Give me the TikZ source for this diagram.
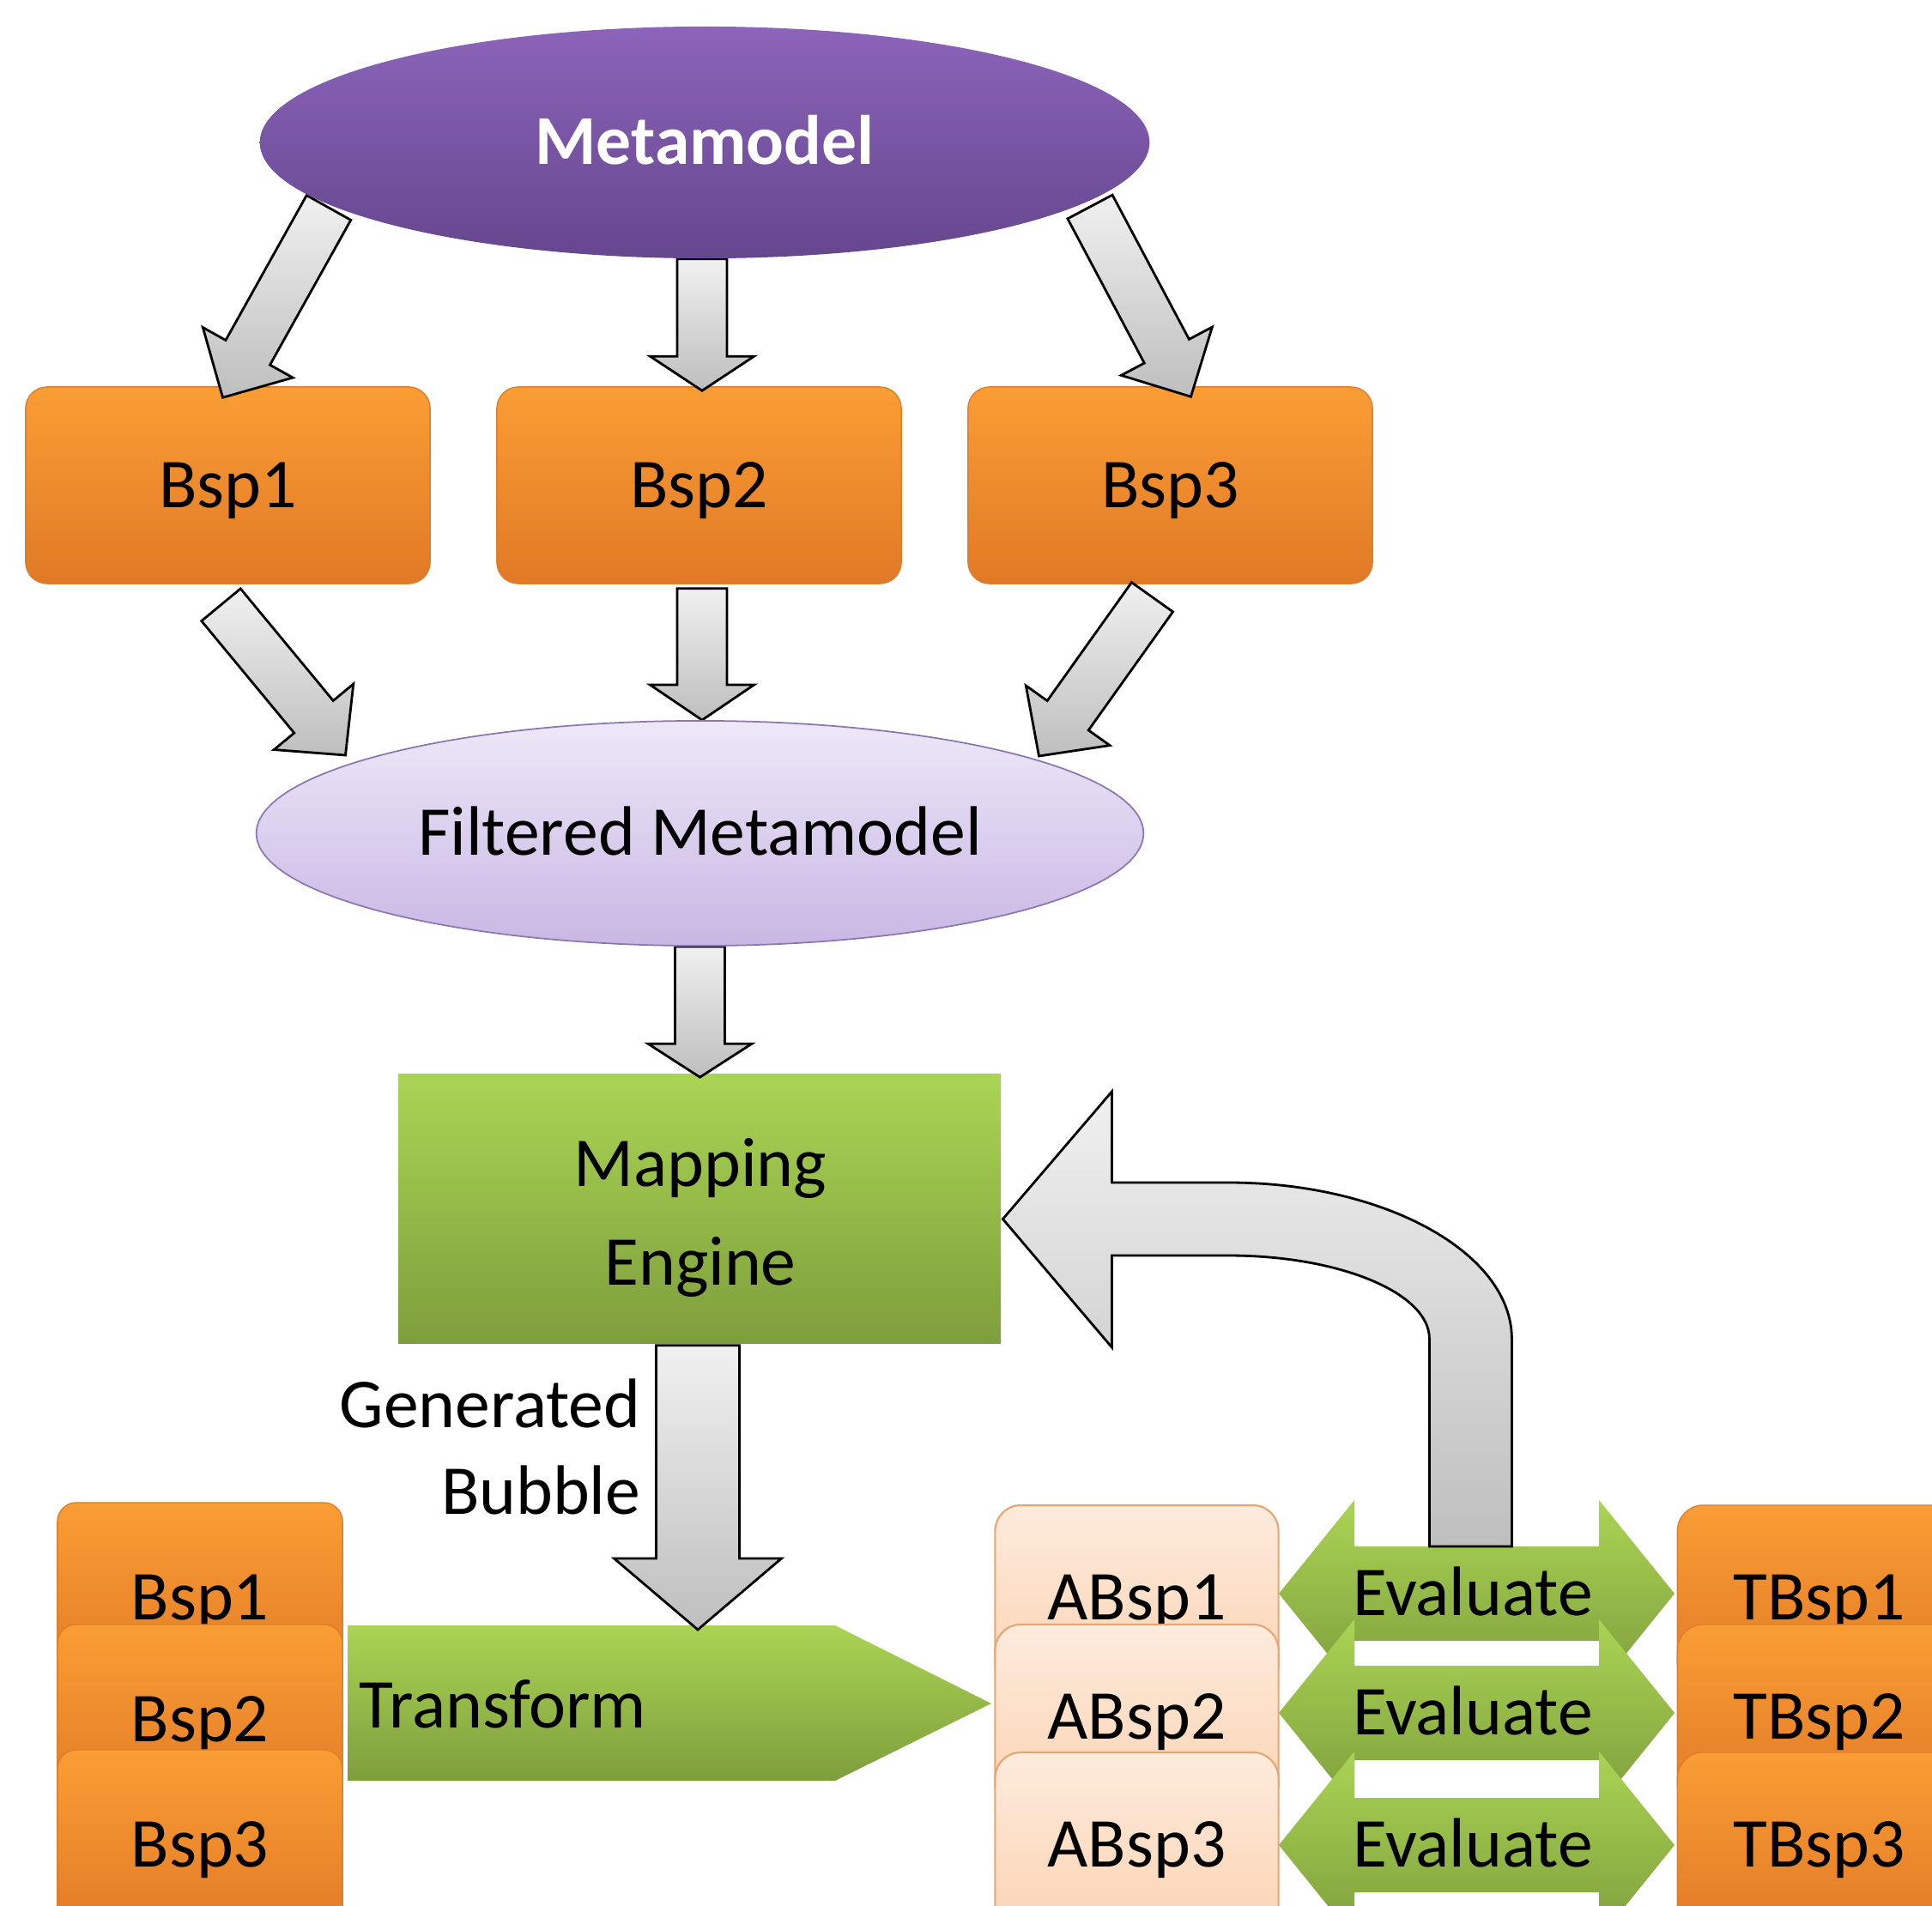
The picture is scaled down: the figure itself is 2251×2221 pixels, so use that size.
\documentclass[tikz,border=0pt]{standalone}
\usepackage{fontspec}
\setmainfont{Carlito}
\usetikzlibrary{calc,shapes.geometric}
\pgfdeclarelayer{front}
\pgfsetlayers{main,front}

\definecolor{orangeT}{RGB}{250,157,52}
\definecolor{orangeB}{RGB}{224,121,38}
\definecolor{orangeEdge}{RGB}{222,125,45}
\definecolor{greenT}{RGB}{170,212,84}
\definecolor{greenB}{RGB}{126,158,60}
\definecolor{purpT}{RGB}{140,100,186}
\definecolor{purpB}{RGB}{101,71,142}
\definecolor{lavT}{RGB}{238,232,248}
\definecolor{lavB}{RGB}{200,183,228}
\definecolor{lavEdge}{RGB}{140,120,175}
\definecolor{peachT}{RGB}{253,235,221}
\definecolor{peachB}{RGB}{251,211,178}
\definecolor{peachEdge}{RGB}{230,165,115}
\definecolor{grayT}{RGB}{240,240,240}
\definecolor{grayB}{RGB}{190,190,190}

\newcommand\dfont{\fontsize{23.2}{27}\selectfont}

\tikzset{
  capcenter/.style={text height=0.515cm, text depth=0pt},
  plaintext/.style={inner sep=0pt, font=\dfont},
  orangebox/.style={rectangle, rounded corners=0.25cm, top color=orangeT,
    bottom color=orangeB, draw=orangeEdge, line width=0.4pt, font=\dfont,
    capcenter, inner sep=0pt, minimum width=4.71cm, minimum height=2.29cm},
  stackbox/.style={orangebox, rounded corners=0.22cm, minimum width=3.32cm,
    minimum height=2.22cm},
  tbox/.style={orangebox, rounded corners=0.30cm, minimum width=3.30cm,
    minimum height=2.16cm},
  abox/.style={rectangle, rounded corners=0.30cm, top color=peachT,
    bottom color=peachB, draw=peachEdge, line width=0.6pt, font=\dfont,
    capcenter, inner sep=0pt, minimum width=3.30cm, minimum height=2.16cm},
  greenfill/.style={top color=greenT, bottom color=greenB},
  greenbox/.style={rectangle, greenfill, inner sep=0pt,
    minimum width=7.02cm, minimum height=3.13cm},
  metaell/.style={ellipse, top color=purpT, bottom color=purpB, text=white,
    font=\dfont\bfseries, capcenter, inner sep=0pt,
    minimum width=10.36cm, minimum height=2.70cm},
  filtell/.style={ellipse, top color=lavT, bottom color=lavB, draw=lavEdge,
    line width=0.5pt, font=\dfont, capcenter, inner sep=0pt,
    minimum width=10.33cm, minimum height=2.62cm},
  grayarrow/.style={draw=black, line width=0.8pt, line join=miter,
    top color=grayT, bottom color=grayB},
}

% straight block arrow: tail, tip, half shaft width, half head width, head length
\newcommand\blockarrow[5]{%
  \coordinate (baBase) at ($(#2)!#5!(#1)$);
  \path[grayarrow] ($(#1)!#3!90:(#2)$) -- ($(baBase)!#3!90:(#2)$)
    -- ($(baBase)!#4!90:(#2)$) -- (#2) -- ($(baBase)!#4!-90:(#2)$)
    -- ($(baBase)!#3!-90:(#2)$) -- ($(#1)!#3!-90:(#2)$) -- cycle;
}

% two-headed green arrow with its label, centred at height #2
\newcommand\evalarrow[2]{%
  \path[greenfill] (1490,#2) -- ++(88,-109) -- ++(0,54) -- ++(285,0)
    -- ++(0,-54) -- ++(88,109) -- ++(-88,109) -- ++(0,-54) -- ++(-285,0)
    -- ++(0,54) -- cycle;
  \node[plaintext, capcenter] (#1) at (1716,#2) {Evaluate};
}

\begin{document}
\begin{tikzpicture}[x=0.01cm, y=-0.01cm]
\useasboundingbox (0,0) rectangle (2251,2221);
\clip (0,0) rectangle (2251,2221);
\fill[white] (0,0) rectangle (2251,2221);

% ellipses sit on the front layer, above the arrow tails
\begin{pgfonlayer}{front}
  \node[metaell] (meta) at (821,166) {Metamodel};
  \node[filtell] (fm) at (815.5,971) {Filtered Metamodel};
\end{pgfonlayer}

% example boxes
\node[orangebox] (b1) at (265.5,565.5) {Bsp1};
\node[orangebox] (b2) at (814.5,565.5) {Bsp2};
\node[orangebox] (b3) at (1363.5,565.5) {Bsp3};

% mapping engine
\node[greenbox] (map) at (815,1408.5) {};
\node[plaintext, anchor=base] (mapA) at (816,1382) {Mapping};
\node[plaintext, anchor=base] (mapB) at (816,1497) {Engine};

\node[plaintext, anchor=base east] (gen1) at (747,1663) {Generated};
\node[plaintext, anchor=base east] (gen2) at (747,1764) {Bubble};

% input stack
\node[stackbox] (s1) at (233,1862) {Bsp1};
\node[stackbox] (s2) at (233,2004) {Bsp2};
\node[stackbox] (s3) at (233,2150) {Bsp3};

% transform step
\coordinate (trNW) at (405,1894);
\path[greenfill] (trNW) -- ++(568,0) -- ++(182,91) -- ++(-182,90)
  -- ++(-568,0) -- cycle;
\node[plaintext, anchor=base west] (tr) at (418,2013) {Transform};

% transformed and target examples
\node[abox] (a1) at (1324.5,1862) {ABsp1};
\node[abox] (a2) at (1324.5,2001) {ABsp2};
\node[abox] (a3) at (1324.5,2150) {ABsp3};
\node[tbox] (tb1) at (2119.5,1862) {TBsp1};
\node[tbox] (tb2) at (2119.5,2001) {TBsp2};
\node[tbox] (tb3) at (2119.5,2150) {TBsp3};

\evalarrow{ev1}{1857}
\evalarrow{ev2}{1996}
\evalarrow{ev3}{2150}

% metamodel to examples
\coordinate (t1) at ($(meta.center)+(-438,76)$);
\coordinate (h1) at ($(b1.north)+(-6,13)$);
\blockarrow{t1}{h1}{0.295cm}{0.60cm}{0.60cm}
\coordinate (t2) at ($(meta.south)+(-3,0)$);
\coordinate (h2) at ($(b2.north)+(3.5,5)$);
\blockarrow{t2}{h2}{0.29cm}{0.605cm}{0.40cm}
\coordinate (t3) at ($(meta.center)+(449,75)$);
\coordinate (h3) at ($(b3.north)+(24,12)$);
\blockarrow{t3}{h3}{0.295cm}{0.60cm}{0.60cm}

% examples to filtered metamodel
\coordinate (t4) at ($(b1.south)+(-8,24)$);
\coordinate (h4) at ($(fm.center)+(-413,-91)$);
\blockarrow{t4}{h4}{0.295cm}{0.60cm}{0.58cm}
\coordinate (t5) at ($(b2.south)+(3.5,5)$);
\coordinate (h5) at ($(fm.north)+(2.5,0)$);
\blockarrow{t5}{h5}{0.29cm}{0.605cm}{0.41cm}
\coordinate (t6) at ($(b3.south)+(-21,15)$);
\coordinate (h6) at ($(fm.center)+(395,-90)$);
\blockarrow{t6}{h6}{0.295cm}{0.60cm}{0.58cm}

% filtered metamodel to mapping engine, engine to transform
\coordinate (h7) at ($(map.north)+(0.5,4)$);
\blockarrow{fm.south}{h7}{0.29cm}{0.605cm}{0.39cm}
\coordinate (t8) at ($(map.south)+(-2,2)$);
\coordinate (trIn) at ($(trNW)+(408,5)$);
\blockarrow{t8}{trIn}{0.485cm}{0.975cm}{0.83cm}

% feedback from evaluation back to the mapping engine
\coordinate (fbTip) at ($(map.east)+(1.5,12)$);
\begin{scope}[shift={(fbTip)}]
  \path[grayarrow] (0,0) -- (127,-148.5) -- (127,-42.5) -- (263,-42.5)
    .. controls (445,-42.5) and (593,39.5) .. (593,139.5)
    -- (593,381.5) -- (497,381.5) -- (497,139.5)
    .. controls (497,86) and (392,42.5) .. (263,42.5)
    -- (127,42.5) -- (127,149.5) -- cycle;
\end{scope}
\end{tikzpicture}
\end{document}
